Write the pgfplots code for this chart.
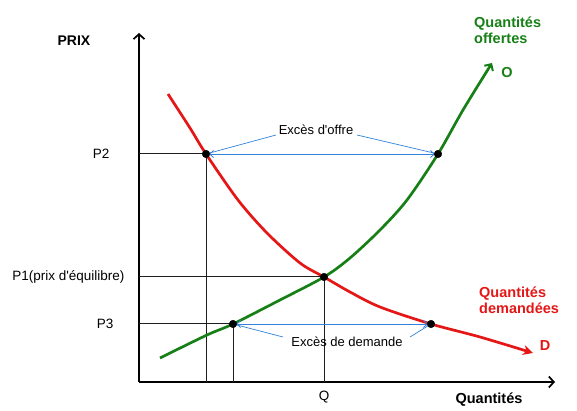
\documentclass[border=0pt]{standalone}
\usepackage{pgfplots}
\pgfplotsset{compat=1.18}
\usepackage{fontspec}
\setmainfont{Liberation Sans}
\usetikzlibrary{arrows.meta}
\definecolor{cred}{RGB}{228,22,22}
\definecolor{cgreen}{RGB}{22,128,22}
\definecolor{cblue}{RGB}{50,130,220}
\definecolor{cgrid}{RGB}{30,30,30}
\begin{document}
\begin{tikzpicture}
\begin{axis}[width=416pt,height=349pt,scale only axis,
  xmin=0,xmax=416,ymin=0,ymax=349,
  axis lines=left,
  axis line style={line width=1.7pt,-{Straight Barb[length=5pt,width=11pt,line width=1.7pt]}},
  ticks=none, clip=false]
\path (axis cs:-139,-24) rectangle (axis cs:438,382);
% guide lines
\addplot[cgrid, line width=1pt] coordinates {(0,228)(67,228)};
\addplot[cgrid, line width=1pt] coordinates {(0,105)(185,105)};
\addplot[cgrid, line width=1pt] coordinates {(0,58)(94,58)};
\addplot[cgrid, line width=1pt] coordinates {(67,0)(67,228)};
\addplot[cgrid, line width=1pt] coordinates {(94,0)(94,58)};
\addplot[cgrid, line width=1pt] coordinates {(185,0)(185,105)};
% demand
\addplot[cred, line width=2.7pt, smooth, -{Stealth[length=10pt,width=10pt]}] coordinates {
(29,288)(51,254)(67,228)(99,182)(128,149)(161,119)(185,105)(211,90)(241,75)(292,58)(341,45)(394,29)};
% supply
\addplot[cgreen, line width=2.7pt, smooth, -{Straight Barb[length=5pt,width=10pt,line width=2pt]}] coordinates {
(21,24)(68,47)(94,58)(141,82)(185,105)(211,124)(241,152)(268,182)(299,228)(324,272)(353,319)};
% excess arrows
\addplot[cblue, line width=0.8pt, shorten <=3pt, shorten >=3pt, {Straight Barb[length=4pt,width=7pt]}-{Straight Barb[length=4pt,width=7pt]}] coordinates {(67,228)(299,228)};
\addplot[cblue, line width=0.8pt, shorten <=3pt, shorten >=3pt, {Straight Barb[length=4pt,width=7pt]}-{Straight Barb[length=4pt,width=7pt]}] coordinates {(94,58)(292,58)};
\addplot[cblue, line width=0.7pt] coordinates {(67,228)(137,247)};
\addplot[cblue, line width=0.7pt] coordinates {(218,247)(299,228)};
\addplot[cblue, line width=0.7pt] coordinates {(94,58)(144,45)};
\addplot[cblue, line width=0.7pt] coordinates {(271,45)(292,58)};
% dots
\addplot[only marks, mark=*, mark size=3.8pt, black] coordinates {(67,228)(299,228)(185,105)(94,58)(292,58)};
% texts
\node[font=\fontsize{13}{15}\selectfont] at (axis cs:177,252) {Excès d\textquotesingle offre};
\node[font=\fontsize{13}{15}\selectfont] at (axis cs:208,40) {Excès de demande};
\node[font=\fontsize{14}{15}\selectfont\bfseries] at (axis cs:-65,341) {PRIX};
\node[font=\fontsize{13.5}{15}\selectfont, anchor=east] at (axis cs:-26,228) {P2};
\node[font=\fontsize{13.5}{15}\selectfont, anchor=east] at (axis cs:-11,105) {P1(prix d\textquotesingle équilibre)};
\node[font=\fontsize{13.5}{15}\selectfont, anchor=east] at (axis cs:-22,58) {P3};
\node[font=\fontsize{13.5}{15}\selectfont] at (axis cs:185,-15) {Q};
\node[font=\fontsize{14.5}{15}\selectfont\bfseries] at (axis cs:350,-18) {Quantités};
\node[font=\fontsize{14.5}{16}\selectfont\bfseries, text=cgreen, anchor=west, align=left, inner sep=0pt] at (axis cs:335,352) {Quantités\\offertes};
\node[font=\fontsize{14.5}{15}\selectfont\bfseries, text=cgreen] at (axis cs:368,309) {O};
\node[font=\fontsize{14.5}{16}\selectfont\bfseries, text=cred, anchor=west, align=left, inner sep=0pt] at (axis cs:340,82) {Quantités\\demandées};
\node[font=\fontsize{14.5}{15}\selectfont\bfseries, text=cred] at (axis cs:406,36) {D};
\end{axis}
\end{tikzpicture}
\end{document}
